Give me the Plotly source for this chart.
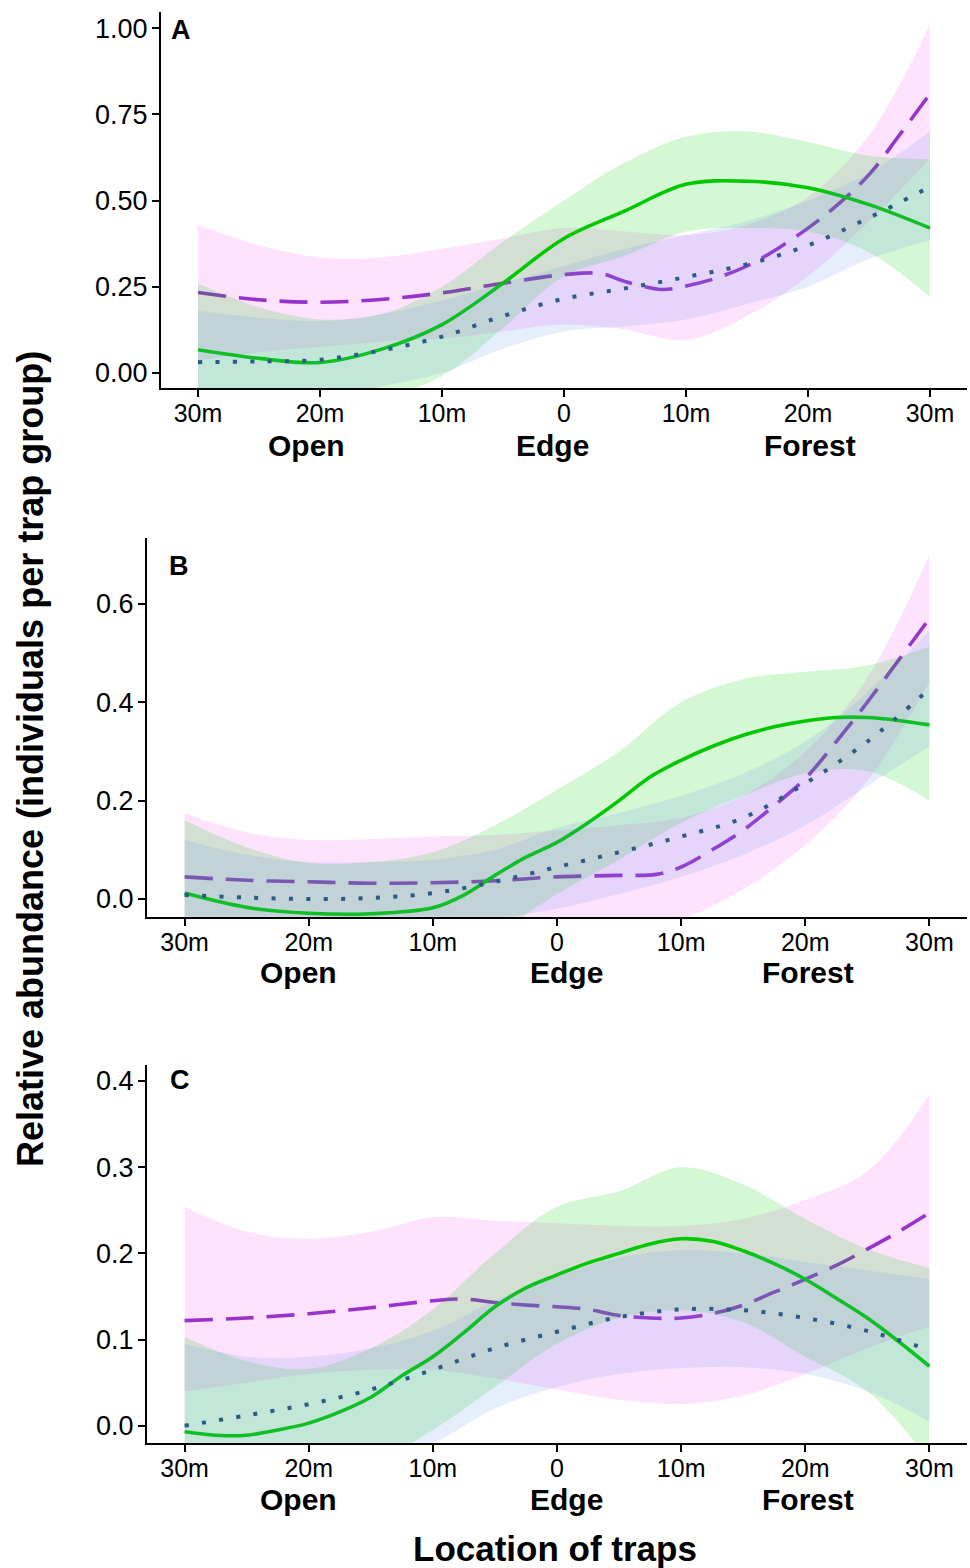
import plotly.graph_objects as go

# ---------------- data ----------------
tick_vals = [-30, -20, -10, 0, 10, 20, 30]
tick_text = ["30m", "20m", "10m", "0", "10m", "20m", "30m"]
zone_labels = ["Open", "Edge", "Forest"]
panel_letters = ["A", "B", "C"]

x5 = [-30, -25, -20, -15, -10, -5, 0, 5, 10, 15, 20, 25, 30]
x25 = [-30, -27.5, -25, -22.5, -20, -17.5, -15, -12.5, -10, -7.5, -5, -2.5, 0,
       2.5, 5, 7.5, 10, 12.5, 15, 17.5, 20, 22.5, 25, 27.5, 30]

# Panel A
xA_purple = [-30, -25, -20, -15, -10, -5, 0, 3, 5, 8, 10, 12.5, 15, 17.5, 20, 22.5, 25, 27.5, 30]
purpleA = [0.233, 0.212, 0.205, 0.213, 0.232, 0.26, 0.285, 0.288, 0.265, 0.242, 0.252, 0.275, 0.31, 0.36, 0.42, 0.49, 0.575, 0.69, 0.81]
greenA = [0.067, 0.042, 0.030, 0.068, 0.14, 0.26, 0.39, 0.47, 0.547, 0.556, 0.537, 0.488, 0.42]
dottedA = [0.031, 0.033, 0.038, 0.065, 0.105, 0.165, 0.215, 0.245, 0.278, 0.315, 0.37, 0.45, 0.54]
pinkA_hi = [0.43, 0.37, 0.335, 0.335, 0.36, 0.39, 0.42, 0.41, 0.40, 0.43, 0.51, 0.69, 1.01]
pinkA_lo = [0.035, 0.06, 0.075, 0.09, 0.10, 0.12, 0.14, 0.125, 0.095, 0.165, 0.28, 0.44, 0.62]
greenA_hi = [0.26, 0.19, 0.155, 0.17, 0.25, 0.38, 0.50, 0.61, 0.685, 0.70, 0.67, 0.63, 0.62]
greenA_lo = [-0.12, -0.12, -0.10, -0.07, -0.01, 0.13, 0.28, 0.34, 0.41, 0.42, 0.41, 0.35, 0.22]
blueA_hi = [0.18, 0.16, 0.15, 0.17, 0.21, 0.26, 0.31, 0.36, 0.40, 0.44, 0.50, 0.58, 0.70]
blueA_lo = [-0.12, -0.10, -0.08, -0.04, 0.0, 0.07, 0.12, 0.135, 0.155, 0.20, 0.25, 0.33, 0.385]

# Panel B
xB_purple = [-30, -25, -20, -15, -10, -5, 0, 5, 8, 10, 12.5, 15, 17.5, 20, 22.5, 25, 27.5, 30]
purpleB = [0.045, 0.038, 0.035, 0.032, 0.033, 0.037, 0.045, 0.048, 0.05, 0.065, 0.1, 0.14, 0.19, 0.245, 0.32, 0.4, 0.485, 0.57]
xB_green = [-30, -25, -20, -15, -10, -7.5, -5, -2.5, 0, 2.5, 5, 7.5, 10, 12.5, 15, 17.5, 20, 22.5, 25, 27.5, 30]
greenB = [0.012, -0.017, -0.029, -0.03, -0.018, 0.008, 0.048, 0.085, 0.115, 0.155, 0.2, 0.248, 0.282, 0.31, 0.333, 0.35, 0.362, 0.369, 0.369, 0.363, 0.354]
dottedB = [0.008, 0.003, 0.0, 0.002, 0.012, 0.035, 0.065, 0.095, 0.127, 0.165, 0.235, 0.32, 0.427]
pinkB_hi = [0.175, 0.135, 0.12, 0.122, 0.127, 0.13, 0.14, 0.15, 0.165, 0.21, 0.30, 0.45, 0.70]
pinkB_lo = [-0.08, -0.06, -0.05, -0.05, -0.06, -0.06, -0.06, -0.06, -0.04, 0.02, 0.11, 0.24, 0.44]
greenB_hi = [0.16, 0.105, 0.073, 0.075, 0.095, 0.15, 0.222, 0.30, 0.40, 0.447, 0.462, 0.475, 0.513]
greenB_lo = [-0.14, -0.14, -0.13, -0.13, -0.12, -0.07, 0.01, 0.08, 0.155, 0.21, 0.255, 0.26, 0.2]
blueB_hi = [0.12, 0.09, 0.075, 0.075, 0.08, 0.1, 0.145, 0.175, 0.21, 0.255, 0.32, 0.42, 0.547]
blueB_lo = [-0.1, -0.08, -0.07, -0.07, -0.06, -0.04, -0.02, 0.01, 0.045, 0.09, 0.15, 0.23, 0.31]

# Panel C
xC_purple = [-30, -25, -20, -15, -10, -7.5, -5, -2.5, 0, 2.5, 5, 7.5, 10, 12.5, 15, 17.5, 20, 22.5, 25, 27.5, 30]
purpleC = [0.122, 0.125, 0.13, 0.137, 0.145, 0.147, 0.143, 0.14, 0.138, 0.135, 0.128, 0.125, 0.125, 0.13, 0.14, 0.155, 0.17, 0.186, 0.205, 0.225, 0.247]
greenC = [-0.007, -0.011, -0.011, -0.005, 0.003, 0.016, 0.033, 0.058, 0.08, 0.108, 0.138, 0.16, 0.175,
          0.189, 0.2, 0.211, 0.217, 0.214, 0.203, 0.188, 0.17, 0.148, 0.125, 0.098, 0.069]
dottedC = [0.0, 0.012, 0.025, 0.042, 0.065, 0.09, 0.109, 0.126, 0.135, 0.134, 0.125, 0.11, 0.088]
pinkC_hi = [0.254, 0.225, 0.217, 0.225, 0.242, 0.238, 0.235, 0.232, 0.232, 0.24, 0.262, 0.295, 0.384]
pinkC_lo = [0.04, 0.05, 0.06, 0.065, 0.065, 0.055, 0.042, 0.03, 0.025, 0.035, 0.06, 0.09, 0.115]
greenC_hi = [0.103, 0.075, 0.066, 0.09, 0.135, 0.2, 0.254, 0.272, 0.30, 0.28, 0.24, 0.205, 0.183]
greenC_lo = [-0.1, -0.085, -0.07, -0.045, -0.005, 0.045, 0.095, 0.125, 0.134, 0.12, 0.08, 0.04, -0.04]
blueC_hi = [0.095, 0.08, 0.08, 0.09, 0.11, 0.145, 0.175, 0.195, 0.204, 0.2, 0.19, 0.18, 0.17]
blueC_lo = [-0.1, -0.08, -0.06, -0.04, -0.02, 0.02, 0.045, 0.06, 0.067, 0.068, 0.06, 0.04, 0.005]

# ---------------- styles ----------------
W, H = 970, 1568
FONT = "Liberation Sans, Arial, sans-serif"
PURPLE = "#9932CC"
GREEN = "#00C800"
DOT = "#2C5A86"
PINK_FILL = "rgba(250,110,250,0.2)"
GREEN_FILL = "rgba(0,205,0,0.17)"
BLUE_FILL = "rgba(100,149,237,0.16)"

panels = [
    dict(xd=[161, 967], yd=[12, 388], yr=[-0.044, 1.047], tv=[0, 0.25, 0.5, 0.75, 1.0], fmt=".2f",
         xp=xA_purple, purple=purpleA, xg=x5, green=greenA, dotted=dottedA,
         ph=pinkA_hi, pl=pinkA_lo, gh=greenA_hi, gl=greenA_lo, bh=blueA_hi, bl=blueA_lo,
         letter=(181, 30), zone_x=[-21.1, -0.98, 20.2], zone_y=446),
    dict(xd=[147, 967], yd=[538, 916.7], yr=[-0.036, 0.734], tv=[0, 0.2, 0.4, 0.6], fmt=".1f",
         xp=xB_purple, purple=purpleB, xg=xB_green, green=greenB, dotted=dottedB,
         ph=pinkB_hi, pl=pinkB_lo, gh=greenB_hi, gl=greenB_lo, bh=blueB_hi, bl=blueB_lo,
         letter=(179, 566), zone_x=[-20.8, 0.8, 20.2], zone_y=972),
    dict(xd=[147, 967], yd=[1065, 1442.7], yr=[-0.0197, 0.4186], tv=[0, 0.1, 0.2, 0.3, 0.4], fmt=".1f",
         xp=xC_purple, purple=purpleC, xg=x25, green=greenC, dotted=dottedC,
         ph=pinkC_hi, pl=pinkC_lo, gh=greenC_hi, gl=greenC_lo, bh=blueC_hi, bl=blueC_lo,
         letter=(180, 1080), zone_x=[-20.8, 0.8, 20.2], zone_y=1499),
]

fig = go.Figure()
annotations = []
layout_axes = {}

for i, p in enumerate(panels):
    k = "" if i == 0 else str(i + 1)
    xa, ya = "x" + k, "y" + k

    def ribbon(hi, lo, fill):
        fig.add_trace(go.Scatter(x=x5, y=lo, mode="lines", line=dict(width=0, shape="spline"),
                                 showlegend=False, hoverinfo="skip", xaxis=xa, yaxis=ya))
        fig.add_trace(go.Scatter(x=x5, y=hi, mode="lines", line=dict(width=0, shape="spline"),
                                 fill="tonexty", fillcolor=fill, showlegend=False, hoverinfo="skip",
                                 xaxis=xa, yaxis=ya))

    ribbon(p["ph"], p["pl"], PINK_FILL)
    fig.add_trace(go.Scatter(x=p["xp"], y=p["purple"], mode="lines",
                             line=dict(color=PURPLE, width=3.6, dash="28px,13px", shape="spline"),
                             showlegend=False, xaxis=xa, yaxis=ya))
    ribbon(p["gh"], p["gl"], GREEN_FILL)
    fig.add_trace(go.Scatter(x=p["xg"], y=p["green"], mode="lines",
                             line=dict(color=GREEN, width=3.6, shape="spline"),
                             showlegend=False, xaxis=xa, yaxis=ya))
    ribbon(p["bh"], p["bl"], BLUE_FILL)
    fig.add_trace(go.Scatter(x=x5, y=p["dotted"], mode="lines",
                             line=dict(color=DOT, width=4, dash="4px,13.4px", shape="spline"),
                             showlegend=False, xaxis=xa, yaxis=ya))

    layout_axes["xaxis" + k] = dict(
        domain=[p["xd"][0] / W, p["xd"][1] / W], range=[-33.03, 33.03], anchor=ya,
        tickvals=tick_vals, ticktext=tick_text, ticks="outside", ticklen=7, tickwidth=1.8,
        tickcolor="black", showline=True, linecolor="black", linewidth=2, showgrid=False,
        zeroline=False, automargin=False, ticklabelstandoff=-5,
        tickfont=dict(family=FONT, size=25, color="black"), fixedrange=True)
    layout_axes["yaxis" + k] = dict(
        domain=[1 - p["yd"][1] / H, 1 - p["yd"][0] / H], range=p["yr"], anchor=xa,
        tickvals=p["tv"], tickformat=p["fmt"], ticks="outside", ticklen=7, tickwidth=1.8,
        tickcolor="black", showline=True, linecolor="black", linewidth=2, showgrid=False,
        zeroline=False, automargin=False, ticklabelstandoff=-1,
        tickfont=dict(family=FONT, size=27, color="black"), fixedrange=True)

    annotations.append(dict(text="<b>%s</b>" % panel_letters[i], x=p["letter"][0] / W, y=1 - p["letter"][1] / H,
                            xref="paper", yref="paper", xanchor="center", yanchor="middle",
                            showarrow=False, font=dict(family=FONT, size=27, color="black")))
    for lab, zx in zip(zone_labels, p["zone_x"]):
        annotations.append(dict(text="<b>%s</b>" % lab, x=zx, xref=xa, y=1 - p["zone_y"] / H, yref="paper",
                                xanchor="center", yanchor="middle", showarrow=False,
                                font=dict(family=FONT, size=30, color="black")))

annotations.append(dict(text="<b>Relative abundance (individuals per trap group)</b>", x=30 / W, y=1 - 759 / H,
                        xref="paper", yref="paper", textangle=-90, xanchor="center", yanchor="middle",
                        showarrow=False, font=dict(family=FONT, size=36, color="black")))
annotations.append(dict(text="<b>Location of traps</b>", x=555 / W, y=1 - 1548 / H,
                        xref="paper", yref="paper", xanchor="center", yanchor="middle",
                        showarrow=False, font=dict(family=FONT, size=35, color="black")))

fig.update_layout(width=W, height=H, margin=dict(l=0, r=0, t=0, b=0, pad=0, autoexpand=False),
                  paper_bgcolor="white", plot_bgcolor="white", showlegend=False,
                  annotations=annotations, **layout_axes)

fig.write_html("out.html", config={"displayModeBar": False},
               post_script="document.body.style.margin='0';document.body.style.overflow='hidden';")
